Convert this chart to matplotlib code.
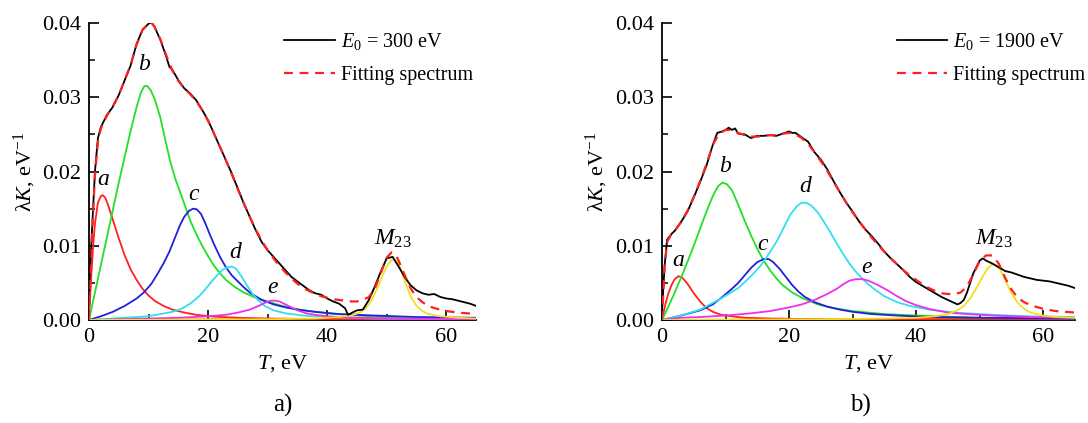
import matplotlib
matplotlib.use("Agg")
import matplotlib.pyplot as plt
from matplotlib.ticker import MultipleLocator, FormatStrFormatter

plt.rcParams['font.family'] = ['Liberation Serif', 'DejaVu Serif']
plt.rcParams['mathtext.fontset'] = 'custom'
plt.rcParams['mathtext.rm'] = 'Liberation Serif'
plt.rcParams['mathtext.it'] = 'Liberation Serif:italic'
plt.rcParams['mathtext.bf'] = 'Liberation Serif:bold'

# ---------------- Panel a) E0 = 300 eV ----------------
exp_a = [(0, 0.004), (0.5, 0.012), (1, 0.020), (1.5, 0.0245), (2, 0.026), (3, 0.0276), (4, 0.0287),
         (5, 0.0303), (6, 0.0323), (7, 0.0343), (8, 0.0372), (9, 0.0391), (10, 0.0399), (10.5, 0.0401),
         (11, 0.0395), (12, 0.0377), (13, 0.0354), (13.5, 0.0341), (14, 0.0337), (15, 0.0323),
         (16, 0.0312), (17, 0.0305), (18, 0.0296), (19, 0.0283), (20, 0.0269), (21, 0.0251),
         (22, 0.0233), (23, 0.0215), (24, 0.0197), (25, 0.0177), (26, 0.0157), (27, 0.0139),
         (28, 0.0121), (29, 0.0105), (30, 0.0094), (31, 0.0085), (32, 0.0076), (33, 0.0067),
         (34, 0.0058), (35, 0.0052), (36, 0.0046), (37, 0.0040), (38, 0.0036), (39, 0.0034),
         (40, 0.0029), (41, 0.0025), (42, 0.0022), (43, 0.0016), (43.5, 0.0007), (44, 0.0009),
         (45, 0.0013), (46, 0.0014), (47, 0.0027), (48, 0.0045), (49, 0.0065), (50, 0.0083),
         (51, 0.0085), (52, 0.0072), (53, 0.0058), (54, 0.0047), (55, 0.0040), (56, 0.0036),
         (57, 0.0034), (58, 0.0035), (59, 0.0031), (60, 0.0029), (61, 0.0028), (62, 0.0026),
         (63, 0.0024), (64, 0.0022), (65, 0.0019)]
fit_a = [(0, 0), (0.3, 0.006), (0.6, 0.013), (1, 0.0195), (1.5, 0.024), (2, 0.0258), (3, 0.0275),
         (4, 0.0288), (5, 0.0303), (6, 0.0323), (7, 0.0344), (8, 0.0371), (9, 0.0391), (10, 0.0399),
         (10.5, 0.0400), (11, 0.0395), (12, 0.0378), (13, 0.0356), (14, 0.0336), (15, 0.0322),
         (16, 0.0312), (17, 0.0304), (18, 0.0295), (19, 0.0283), (20, 0.0268), (21, 0.0251),
         (22, 0.0233), (23, 0.0215), (24, 0.0196), (25, 0.0176), (26, 0.0157), (27, 0.0139),
         (28, 0.0122), (29, 0.0107), (30, 0.0094), (31, 0.0083), (32, 0.0073), (33, 0.0064),
         (34, 0.0056), (35, 0.0049), (36, 0.0043), (37, 0.0039), (38, 0.0035), (39, 0.0032),
         (40, 0.0030), (41, 0.0028), (42, 0.0027), (43, 0.0026), (44, 0.0025), (45, 0.0025),
         (46, 0.0027), (47, 0.0031), (48, 0.0042), (49, 0.0063), (50, 0.0084), (50.8, 0.0091),
         (51.5, 0.0088), (52, 0.0080), (53, 0.0061), (54, 0.0043), (55, 0.0031), (56, 0.0024),
         (57, 0.0019), (58, 0.0016), (60, 0.0012), (62, 0.0010), (65, 0.0008)]
peak_a_a = [(0, 0), (0.3, 0.005), (0.7, 0.010), (1.0, 0.013), (1.5, 0.0158), (2.0, 0.0167),
            (2.3, 0.0168), (2.7, 0.0165), (3.2, 0.0155), (4, 0.0135), (5, 0.0110), (6, 0.0087),
            (7, 0.0068), (8, 0.0054), (9, 0.0042), (10, 0.0033), (11, 0.0026), (12.5, 0.0019),
            (14, 0.0014), (16, 0.0010), (18, 0.0007), (21, 0.00045), (25, 0.0003), (30, 0.0002),
            (40, 0.00012), (65, 0.00005)]
peak_b_a = [(0, 0), (1, 0.0037), (2, 0.0074), (3, 0.0111), (4, 0.0148), (5, 0.0185), (6, 0.0220),
            (7, 0.0255), (8, 0.0287), (8.7, 0.0306), (9.3, 0.0315), (9.8, 0.0315), (10.4, 0.0309),
            (11.1, 0.0296), (12, 0.0272), (12.8, 0.0243), (13.6, 0.0215), (14.5, 0.0190),
            (15.4, 0.0170), (16.3, 0.0150), (17, 0.0134), (18, 0.0116), (19, 0.0100), (20, 0.0086),
            (21, 0.0073), (22, 0.0063), (23, 0.0054), (24.4, 0.0045), (26, 0.0037), (28, 0.0030),
            (30, 0.0025), (32, 0.0020), (34, 0.0016), (37, 0.0012), (40, 0.0009), (45, 0.0006),
            (50, 0.0004), (57, 0.0003), (65, 0.0002)]
peak_c_a = [(0, 0), (2, 0.0005), (4, 0.0011), (6, 0.0019), (8, 0.0029), (9.2, 0.0037), (10.5, 0.0049),
            (11.5, 0.0062), (12.5, 0.0076), (13.5, 0.0092), (14.5, 0.0112), (15.3, 0.0128),
            (16, 0.0139), (16.8, 0.0147), (17.5, 0.0150), (18.1, 0.0149), (18.8, 0.0143),
            (19.5, 0.0131), (20.2, 0.0117), (21, 0.0102), (22, 0.0085), (23, 0.0071), (24, 0.0060),
            (25, 0.0052), (26, 0.0044), (27, 0.0037), (29, 0.0027), (31, 0.0021), (33, 0.0017),
            (35, 0.0014), (38, 0.0011), (42, 0.0008), (48, 0.0006), (55, 0.0004), (65, 0.0003)]
peak_d_a = [(0, 0), (4, 0.0002), (8, 0.0004), (10, 0.0005), (12, 0.0008), (14, 0.0011), (15.5, 0.0015),
            (17, 0.0022), (18.5, 0.0032), (19.5, 0.0041), (20.5, 0.0051), (21.5, 0.0060),
            (22.5, 0.0068), (23.3, 0.0071), (24, 0.0072), (24.7, 0.0069), (25.5, 0.0060),
            (26.5, 0.0047), (27.5, 0.0035), (28.5, 0.0026), (29.5, 0.0019), (31, 0.0013),
            (33, 0.0009), (36, 0.0006), (40, 0.0004), (48, 0.0002), (65, 0.0001)]
peak_e_a = [(0, 0), (5, 0.0001), (10, 0.0002), (15, 0.0003), (20, 0.0005), (23, 0.0007), (25, 0.0010),
            (27, 0.0014), (28.5, 0.0019), (29.5, 0.0023), (30.5, 0.0026), (31.3, 0.0026),
            (32, 0.0025), (33, 0.0021), (34, 0.0017), (35, 0.0013), (36.5, 0.0009), (38, 0.0007),
            (40, 0.0005), (45, 0.0003), (52, 0.0002), (65, 0.0001)]
peak_m_a = [(0, 0), (20, 0.00005), (30, 0.0001), (38, 0.0002), (42, 0.0004), (44, 0.0006),
            (45.5, 0.0010), (46.5, 0.0016), (47.5, 0.0027), (48.5, 0.0044), (49.3, 0.0060),
            (50, 0.0072), (50.7, 0.0080), (51.2, 0.0082), (51.8, 0.0078), (52.5, 0.0066),
            (53.2, 0.0049), (54, 0.0032), (55, 0.0019), (56, 0.0012), (57, 0.0008), (59, 0.0005),
            (62, 0.0003), (65, 0.0002)]
base_a = [(0, 0), (20, 0.0001), (40, 0.00015), (65, 0.0002)]

# ---------------- Panel b) E0 = 1900 eV ----------------
exp_b = [(0, 0.001), (0.4, 0.0072), (0.8, 0.0108), (1.5, 0.0116), (2, 0.0120), (3, 0.0132),
         (4, 0.0146), (5, 0.0165), (6, 0.0186), (7, 0.0208), (8, 0.0236), (8.7, 0.0252),
         (9.5, 0.0254), (10, 0.0256), (10.5, 0.0259), (11, 0.0256), (11.5, 0.0258), (12, 0.0251),
         (13, 0.0250), (14, 0.0245), (15, 0.0248), (16, 0.0248), (17, 0.0249), (18, 0.0248),
         (19, 0.0251), (20, 0.0254), (20.5, 0.0252), (21, 0.0252), (22, 0.0246), (23, 0.0240),
         (24, 0.0226), (25, 0.0216), (26, 0.0203), (27, 0.0187), (28, 0.0172), (29, 0.0158),
         (30, 0.0146), (31, 0.0133), (32, 0.0122), (33, 0.0113), (34, 0.0103), (35, 0.0092),
         (36, 0.0083), (37, 0.0075), (38, 0.0067), (39, 0.0058), (40, 0.0051), (41, 0.0046),
         (42, 0.0041), (43, 0.0036), (44, 0.0031), (45, 0.0027), (46, 0.0023), (46.5, 0.0021),
         (47, 0.0023), (47.5, 0.0027), (48, 0.0037), (48.5, 0.0050), (49, 0.0063), (50, 0.0080),
         (50.5, 0.0083), (51, 0.0080), (52, 0.0076), (53, 0.0071), (54, 0.0066), (55, 0.0064),
         (56, 0.0061), (57, 0.0058), (58, 0.0056), (59, 0.0054), (60, 0.0053), (61, 0.0052),
         (62, 0.0050), (63, 0.0048), (64, 0.0046), (65, 0.0043)]
fit_b = [(0, 0), (0.4, 0.0070), (0.8, 0.0105), (1.5, 0.0116), (2, 0.0120), (3, 0.0132), (4, 0.0147),
         (5, 0.0166), (6, 0.0187), (7, 0.0210), (8, 0.0236), (9, 0.0251), (10, 0.0256), (11, 0.0256),
         (12, 0.0252), (13, 0.0249), (14, 0.0247), (15, 0.0247), (16, 0.0248), (17, 0.0249),
         (18, 0.0249), (19, 0.0251), (20, 0.0252), (21, 0.0250), (22, 0.0245), (23, 0.0237),
         (24, 0.0226), (25, 0.0214), (26, 0.0201), (27, 0.0186), (28, 0.0172), (29, 0.0158),
         (30, 0.0145), (31, 0.0133), (32, 0.0122), (33, 0.0111), (34, 0.0101), (35, 0.0092),
         (36, 0.0083), (37, 0.0075), (38, 0.0067), (39, 0.0060), (40, 0.0054), (41, 0.0048),
         (42, 0.0043), (43, 0.0039), (44, 0.0036), (45, 0.0035), (46, 0.0035), (47, 0.0037),
         (48, 0.0045), (49, 0.0062), (50, 0.0079), (51, 0.0087), (52, 0.0087), (53, 0.0076),
         (54, 0.0057), (55, 0.0041), (56, 0.0030), (57, 0.0024), (58, 0.0020), (60, 0.0015),
         (62, 0.0012), (65, 0.0010)]
peak_a_b = [(0, 0), (0.5, 0.0020), (1, 0.0036), (1.5, 0.0047), (2, 0.0055), (2.6, 0.0059),
            (3.2, 0.0057), (4, 0.0049), (5, 0.0036), (6, 0.0025), (7, 0.0016), (8, 0.0011),
            (9.3, 0.0007), (11, 0.0005), (13, 0.0003), (17, 0.0002), (25, 0.0001), (65, 0.00003)]
peak_b_b = [(0, 0), (1, 0.0018), (2, 0.0037), (3, 0.0057), (4, 0.0078), (5, 0.0100), (6, 0.0123),
            (7, 0.0146), (8, 0.0167), (8.8, 0.0180), (9.5, 0.0185), (10.2, 0.0183), (11, 0.0175),
            (12, 0.0155), (13, 0.0134), (14, 0.0114), (15, 0.0096), (16, 0.0080), (17, 0.0067),
            (18, 0.0056), (19, 0.0047), (20.5, 0.0037), (22, 0.0030), (24.5, 0.0021), (27, 0.0016),
            (30, 0.0012), (35, 0.0008), (40, 0.0006), (50, 0.0003), (65, 0.0002)]
peak_c_b = [(0, 0), (3, 0.0006), (6, 0.0013), (8, 0.0021), (9.5, 0.0031), (11, 0.0042), (12, 0.0050),
            (13, 0.0060), (14, 0.0070), (15, 0.0078), (16, 0.0082), (16.8, 0.0082), (17.5, 0.0078),
            (18.5, 0.0069), (19.5, 0.0058), (20.5, 0.0047), (21.5, 0.0038), (22.5, 0.0031),
            (24, 0.0024), (26, 0.0018), (28, 0.0014), (30, 0.0011), (33, 0.0008), (37, 0.0006),
            (42, 0.0004), (50, 0.0003), (65, 0.0002)]
peak_d_b = [(0, 0), (3, 0.0006), (6, 0.0014), (9.3, 0.0029), (12, 0.0043), (14, 0.0059),
            (15.5, 0.0073), (16.5, 0.0085), (18, 0.0105), (19.2, 0.0125), (20.2, 0.0142),
            (21.2, 0.0153), (22, 0.0158), (22.7, 0.0158), (23.5, 0.0154), (24.5, 0.0145),
            (25.5, 0.0132), (26.5, 0.0118), (27.5, 0.0103), (28.5, 0.0089), (29.5, 0.0076),
            (30.5, 0.0065), (31.5, 0.0056), (32.5, 0.0048), (33.5, 0.0041), (35, 0.0032),
            (37, 0.0024), (39, 0.0019), (42, 0.0014), (46, 0.0010), (52, 0.0007), (58, 0.0005),
            (65, 0.0004)]
peak_e_b = [(0, 0), (3, 0.0003), (6, 0.0004), (10, 0.0006), (14, 0.0009), (17, 0.0012), (20, 0.0017),
            (22, 0.0021), (24, 0.0027), (26, 0.0035), (27.5, 0.0042), (28.5, 0.0048), (29.5, 0.0053),
            (30.5, 0.0055), (31.5, 0.0055), (32.5, 0.0053), (34, 0.0047), (35.5, 0.0040),
            (37, 0.0032), (38.5, 0.0025), (40, 0.0020), (42, 0.0015), (45, 0.0010), (48, 0.0008),
            (52, 0.0006), (58, 0.0004), (65, 0.0003)]
peak_m_b = [(0, 0), (25, 0.0001), (35, 0.0002), (40, 0.0003), (43, 0.0005), (45, 0.0008),
            (46.5, 0.0013), (47.5, 0.0019), (48.5, 0.0029), (49.5, 0.0043), (50.5, 0.0059),
            (51.3, 0.0070), (52, 0.0075), (52.6, 0.0074), (53.2, 0.0068), (54, 0.0054), (55, 0.0036),
            (56, 0.0023), (57, 0.0015), (58, 0.0010), (60, 0.0006), (62, 0.0004), (65, 0.0003)]
base_b = [(0, 0), (20, 0.0001), (40, 0.00015), (65, 0.0002)]

peak_labels = ["a", "b", "c", "d", "e"]
label_pos_a = [(2.4, 0.0175), (9.3, 0.0330), (17.6, 0.0155), (24.6, 0.0077), (30.8, 0.0030), (51.0, 0.0094)]
label_pos_b = [(2.5, 0.0066), (10.0, 0.0192), (15.8, 0.0088), (22.5, 0.0165), (32.2, 0.0057), (52.2, 0.0094)]
legend_labels_a = ["$E_0$ = 300 eV", "Fitting spectrum"]
legend_labels_b = ["$E_0$ = 1900 eV", "Fitting spectrum"]

colors = {"a": "#ff2020", "b": "#22e022", "c": "#2020dd", "d": "#30e0f0",
          "e": "#ee30ee", "m": "#f2e020", "base": "#e08a00"}

W, H = 1088, 423
fig = plt.figure(figsize=(W / 100, H / 100), dpi=100)


def xy(pairs):
    return [p[0] for p in pairs], [p[1] for p in pairs]


def draw(ax, exp, fit, comps, base, lpos, leg_labels, leg_x):
    x, y = xy(base)
    ax.plot(x, y, color=colors["base"], lw=1.2, zorder=2)
    for key, data in comps:
        x, y = xy(data)
        ax.plot(x, y, color=colors[key], lw=1.3, zorder=3)
    x, y = xy(exp)
    l1, = ax.plot(x, y, color="black", lw=1.3, zorder=4)
    x, y = xy(fit)
    l2, = ax.plot(x, y, color="#ff2020", lw=1.6, ls=(0, (4, 3)), zorder=5)
    for lab, (tx, ty) in zip(peak_labels, lpos[:5]):
        ax.text(tx, ty, lab, fontsize=17, style="italic", ha="center", va="bottom")
    tx, ty = lpos[5]
    ax.text(tx, ty, "$M_{23}$", fontsize=17, ha="center", va="bottom")
    ax.set_xlim(0, 65)
    ax.set_ylim(0, 0.04)
    for s in ["top", "right"]:
        ax.spines[s].set_visible(False)
    for s in ["left", "bottom"]:
        ax.spines[s].set_linewidth(1.3)
    ax.xaxis.set_major_locator(MultipleLocator(20))
    ax.xaxis.set_minor_locator(MultipleLocator(10))
    ax.yaxis.set_major_locator(MultipleLocator(0.01))
    ax.yaxis.set_minor_locator(MultipleLocator(0.005))
    ax.yaxis.set_major_formatter(FormatStrFormatter("%.2f"))
    ax.tick_params(which="major", direction="in", length=7, width=1.2, labelsize=16, pad=6)
    ax.tick_params(which="minor", direction="in", length=4, width=1.1)
    ax.set_xlabel("$T$, eV", fontsize=16, labelpad=4)
    ax.set_ylabel("λ$K$, eV$^{-1}$", fontsize=16, labelpad=3)
    ax.legend([l1, l2], leg_labels, loc="upper right", bbox_to_anchor=(leg_x, 1.0),
              frameon=False, fontsize=14.5, handlelength=2.5, handletextpad=0.3,
              labelspacing=0.7, borderaxespad=0.0)


ax1 = fig.add_axes([89 / W, 1 - 320 / H, 387 / W, 297 / H])
draw(ax1, exp_a, fit_a,
     [("a", peak_a_a), ("b", peak_b_a), ("c", peak_c_a), ("d", peak_d_a), ("e", peak_e_a), ("m", peak_m_a)],
     base_a, label_pos_a, legend_labels_a, 1.013)
ax2 = fig.add_axes([662 / W, 1 - 320 / H, 413 / W, 297 / H])
draw(ax2, exp_b, fit_b,
     [("a", peak_a_b), ("b", peak_b_b), ("c", peak_c_b), ("d", peak_d_b), ("e", peak_e_b), ("m", peak_m_b)],
     base_b, label_pos_b, legend_labels_b, 1.044)

fig.text(283 / W, 1 - 405 / H, "a)", fontsize=18, ha="center", va="center")
fig.text(860 / W, 1 - 405 / H, "b)", fontsize=18, ha="center", va="center")

fig.savefig("out.png", dpi=100)
